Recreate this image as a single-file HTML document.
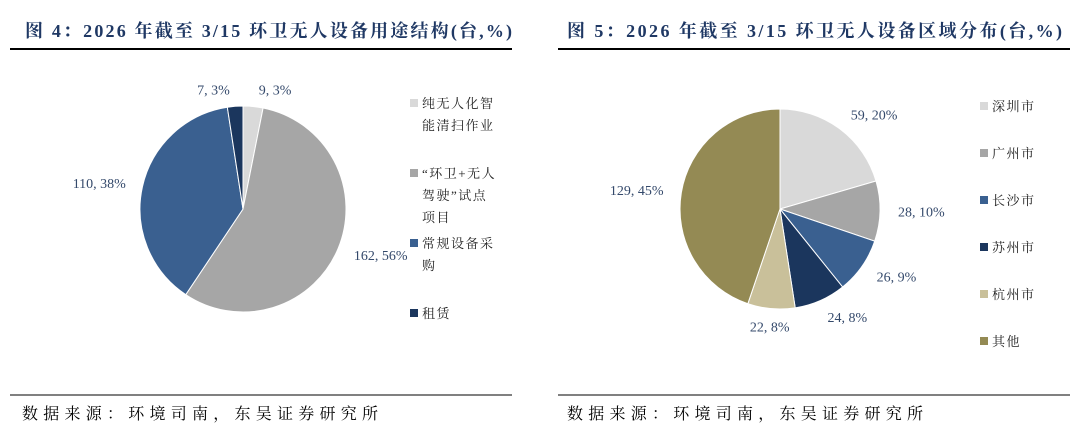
<!DOCTYPE html>
<html><head><meta charset="utf-8">
<style>
body{margin:0;background:#fff;width:1080px;height:432px;overflow:hidden;font-family:"Liberation Serif","Noto Serif CJK SC",serif}
svg text{font-family:"Liberation Serif","Noto Serif CJK SC",serif}
</style></head>
<body>
<svg id="svg" width="1080" height="432">
<g>
<text x="25" y="37" font-size="18" font-weight="bold" fill="#1f3864" textLength="487" lengthAdjust="spacing">图 4：2026 年截至 3/15 环卫无人设备用途结构(台,%)</text>
<line x1="10" y1="49" x2="512" y2="49" stroke="#000" stroke-width="2"/>
<line x1="10" y1="395" x2="512" y2="395" stroke="#000" stroke-width="1"/>
<text x="22" y="419" font-size="16" fill="#000" textLength="356" lengthAdjust="spacing">数据来源：环境司南，东吴证券研究所</text>
<g id="pieL"></g>
<g id="legL"></g>
</g>
<g>
<text x="567" y="37" font-size="18" font-weight="bold" fill="#1f3864" textLength="495" lengthAdjust="spacing">图 5：2026 年截至 3/15 环卫无人设备区域分布(台,%)</text>
<line x1="558" y1="49" x2="1070" y2="49" stroke="#000" stroke-width="2"/>
<line x1="558" y1="395" x2="1070" y2="395" stroke="#000" stroke-width="1"/>
<text x="567" y="419" font-size="16" fill="#000" textLength="356" lengthAdjust="spacing">数据来源：环境司南，东吴证券研究所</text>
<g id="pieR"></g>
<g id="legR"></g>
</g>
</svg>
<script>
const leftCategories = ["纯无人化智|能清扫作业", "“环卫+无人|驾驶”试点|项目", "常规设备采|购", "租赁"];
const leftValues = [9, 162, 110, 7];
const leftPercents = [3, 56, 38, 3];
const leftColors = ["#d9d9d9", "#a6a6a6", "#3a6090", "#1b365d"];
const rightCategories = ["深圳市", "广州市", "长沙市", "苏州市", "杭州市", "其他"];
const rightValues = [59, 28, 26, 24, 22, 129];
const rightPercents = [20, 10, 9, 8, 8, 45];
const rightColors = ["#d9d9d9", "#a6a6a6", "#3a6090", "#1b365d", "#c9c09a", "#948a54"];

const NS = "http://www.w3.org/2000/svg";
function mk(tag, attrs, parent) {
  const e = document.createElementNS(NS, tag);
  for (const k in attrs) e.setAttribute(k, attrs[k]);
  parent.appendChild(e);
  return e;
}
function drawPie(g, values, pcts, colors, cx, cy, r, labelR, prefix, anchors) {
  const total = values.reduce((a, b) => a + b, 0);
  let a0 = 0;
  values.forEach((v, i) => {
    const a1 = a0 + v / total * Math.PI * 2;
    const x0 = cx + r * Math.sin(a0), y0 = cy - r * Math.cos(a0);
    const x1 = cx + r * Math.sin(a1), y1 = cy - r * Math.cos(a1);
    const large = (a1 - a0) > Math.PI ? 1 : 0;
    const p = mk("path", {d: `M${cx},${cy}L${x0},${y0}A${r},${r} 0 ${large} 1 ${x1},${y1}Z`, fill: colors[i], stroke: "#fff", "stroke-width": 1}, g);
    
    
    const am = (a0 + a1) / 2;
    let lx = cx + labelR * Math.sin(am), ly = cy - labelR * Math.cos(am);
    const pct = (pcts && pcts[i] != null) ? pcts[i] : Math.round(v / total * 100);
    const s = Math.sin(am);
    let anchor = Math.abs(s) < 0.3 ? "middle" : (s > 0 ? "start" : "end");
    if (anchors && anchors[i]) { anchor = anchors[i]; lx += anchor === "start" ? 4 : -4; }
    const t = mk("text", {x: lx, y: ly + 5, "font-size": 14, fill: "#34496b", "text-anchor": anchor}, g);
    t.textContent = v + ", " + pct + "%";
    
    
    a0 = a1;
  });
}
function drawLegend(g, cats, colors, x, y0, step) {
  let y = y0;
  cats.forEach((c, i) => {
    const lines = c.split("|");
    const item = mk("g", {}, g);
    
    
    mk("rect", {x: x, y: y - 9, width: 8, height: 8, fill: colors[i]}, item);
    lines.forEach((ln, j) => {
      const t = mk("text", {x: x + 12, y: y + j * 22, "font-size": 13, fill: "#222", "letter-spacing": 1.5}, item);
      t.textContent = ln;
    });
    y += step[i];
  });
}
drawPie(document.getElementById("pieL"), leftValues, leftPercents, leftColors, 243, 209, 103, 120, "left", ["start", null, null, "end"]);
drawPie(document.getElementById("pieR"), rightValues, rightPercents, rightColors, 780, 209, 100, 118, "right");
drawLegend(document.getElementById("legL"), leftCategories, leftColors, 410, 108, [70, 70, 70, 70]);
drawLegend(document.getElementById("legR"), rightCategories, rightColors, 980, 111, [47, 47, 47, 47, 47, 47]);
</script>
</body></html>
